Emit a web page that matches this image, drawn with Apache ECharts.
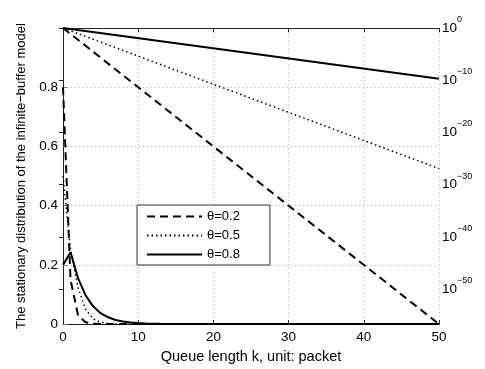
<!DOCTYPE html>
<html>
<head>
<meta charset="utf-8">
<script src="https://cdn.jsdelivr.net/npm/echarts@6/dist/echarts.min.js"></script>
<style>
  html, body { margin: 0; padding: 0; background: #fff; }
  #chart { width: 485px; height: 369px; }
</style>
</head>
<body>
<div id="chart"></div>
<script>
// queue length k for the left (linear) curves
const kLeft = [0, 1, 2, 3, 4, 5, 6, 7, 8, 9, 10, 11, 12, 13, 14, 15, 16, 17, 18, 19, 20, 50]
// stationary distribution (left axis)
const dist02 = [0.8, 0.15, 0.03, 0.006, 0.001, 0, 0, 0, 0, 0, 0, 0, 0, 0, 0, 0, 0, 0, 0, 0, 0, 0]
const dist05 = [0.5, 0.25, 0.123, 0.05, 0.018, 0.006, 0.002, 0.0005, 0, 0, 0, 0, 0, 0, 0, 0, 0, 0, 0, 0, 0, 0]
const dist08 = [0.2, 0.243, 0.155, 0.097, 0.06, 0.037, 0.023, 0.014, 0.009, 0.0055, 0.0035,
  0.002, 0.0013, 0.0008, 0.0005, 0.0003, 0.0002, 0.0001, 0, 0, 0, 0]

// same distributions on the log (right) axis: straight lines between the ends
const kRight = [0, 50]
const tail02 = [1, 2e-57]
const tail05 = [1, 1.2e-27]
const tail08 = [1, 2e-10]

const names = ['θ=0.2', 'θ=0.5', 'θ=0.8']
const styles = [
  { type: [8, 5], width: 2 },
  { type: [1.5, 3], width: 1.5 },
  { type: 'solid', width: 2 }
]

const fontFamily = "'Liberation Sans', Arial, sans-serif"

function pairs(xs, ys, fn) {
  return xs.map((x, i) => [x, fn ? fn(ys[i]) : ys[i]])
}

const leftData = [dist02, dist05, dist08]
const rightData = [tail02, tail05, tail08]

const series = []
leftData.forEach((d, i) => {
  series.push({
    name: names[i],
    type: 'line',
    yAxisIndex: 0,
    symbol: 'none',
    color: '#000',
    data: pairs(kLeft, d),
    lineStyle: { color: '#000', type: styles[i].type, width: styles[i].width }
  })
})
rightData.forEach((d, i) => {
  series.push({
    name: names[i],
    type: 'line',
    yAxisIndex: 1,
    symbol: 'none',
    color: '#000',
    data: pairs(kRight, d, Math.log10),
    lineStyle: { color: '#000', type: styles[i].type, width: styles[i].width }
  })
})

const gridLine = { show: true, lineStyle: { color: '#b5b5b5', type: [1, 3], width: 1 } }

const chart = echarts.init(document.getElementById('chart'))
chart.setOption({
  animation: false,
  textStyle: { fontFamily: fontFamily },
  grid: { left: 63, right: 46, top: 28, bottom: 42 },
  legend: {
    orient: 'vertical',
    left: 137,
    top: 205,
    data: names,
    itemWidth: 55,
    itemHeight: 14,
    itemGap: 6,
    padding: [5, 30, 4, 9],
    borderColor: '#333',
    borderWidth: 1,
    backgroundColor: '#fff',
    itemStyle: { opacity: 0 },
    textStyle: { fontSize: 13, color: '#000', fontFamily: fontFamily }
  },
  xAxis: [{
    type: 'value',
    min: 0,
    max: 50,
    interval: 10,
    name: 'Queue length k, unit: packet',
    nameLocation: 'middle',
    nameGap: 21,
    nameTextStyle: { fontSize: 14.5, color: '#000' },
    axisLine: { lineStyle: { color: '#222', width: 1 } },
    axisTick: { inside: true, length: 4, lineStyle: { color: '#222' } },
    axisLabel: { fontSize: 13.5, color: '#000', margin: 6 },
    splitLine: gridLine
  }, {
    type: 'value',
    position: 'top',
    min: 0,
    max: 50,
    interval: 10,
    axisLine: { lineStyle: { color: '#222', width: 1 } },
    axisTick: { inside: true, length: 4, lineStyle: { color: '#222' } },
    axisLabel: { show: false },
    splitLine: { show: false }
  }],
  yAxis: [{
    type: 'value',
    min: 0,
    max: 1,
    interval: 0.2,
    name: 'The stationary distribution of the infinite\u2212buffer model',
    nameLocation: 'middle',
    nameGap: 28,
    nameTextStyle: { fontSize: 13, color: '#000' },
    axisLine: { show: true, lineStyle: { color: '#777', width: 1 } },
    axisTick: { show: true, inside: true, length: 4, lineStyle: { color: '#777' } },
    axisLabel: { fontSize: 13.5, color: '#000', margin: 5, showMaxLabel: false },
    splitLine: gridLine
  }, {
    type: 'value',
    position: 'right',
    min: Math.log10(tail02[1]),
    max: 0,
    axisLine: { show: true, lineStyle: { color: '#222', width: 1 } },
    axisTick: { show: true, inside: true, length: 4, lineStyle: { color: '#222' } },
    axisLabel: {
      color: '#000',
      margin: 3,
      showMinLabel: false,
      formatter: (v) => {
        const p = Math.round(v)
        const exp = p === 0 ? '0' : '\u2212' + Math.abs(p)
        return '{b|10}{s|' + exp + '}'
      },
      rich: {
        b: { fontSize: 13.5, color: '#000', padding: [6, 0, 6, 0], fontFamily: fontFamily },
        s: { fontSize: 9, color: '#000', verticalAlign: 'top', fontFamily: fontFamily }
      }
    },
    splitLine: { show: false }
  }],
  series: series
})
</script>
</body>
</html>
